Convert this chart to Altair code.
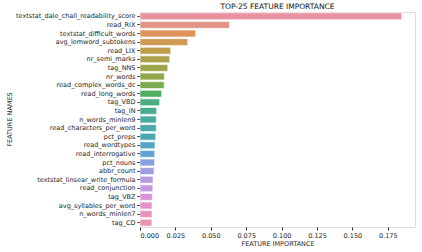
import altair as alt
import pandas as pd

features = [
    "textstat_dale_chall_readability_score", "read_RIX", "textstat_difficult_words",
    "avg_lemword_subtokens", "read_LIX", "nr_semi_marks", "tag_NNS", "nr_words",
    "read_complex_words_dc", "read_long_words", "tag_VBD", "tag_IN", "n_words_minlen9",
    "read_characters_per_word", "pct_preps", "read_wordtypes", "read_interrogative",
    "pct_nouns", "abbr_count", "textstat_linsear_write_formula", "read_conjunction",
    "tag_VBZ", "avg_syllables_per_word", "n_words_minlen7", "tag_CD",
]
importance = [
    0.1848, 0.0631, 0.0393, 0.0337, 0.0217, 0.0210, 0.0196, 0.0172,
    0.0171, 0.0153, 0.0139, 0.0118, 0.0115, 0.0115, 0.0111, 0.0106,
    0.0104, 0.0103, 0.0099, 0.0092, 0.0091, 0.0087, 0.0085, 0.0085, 0.0084,
]
colors = [
    "#e8919f", "#e49387", "#df935c", "#d09a52", "#bd9e4c", "#ada24b", "#9ea54b",
    "#8fa84c", "#7bab4f", "#52ad63", "#4bad80", "#4bab92", "#4aaa9c", "#4ba9a8",
    "#4ca7b4", "#50a5c4", "#62a2d8", "#86a0e0", "#a09de2", "#b499e1", "#c997e0",
    "#da93dc", "#e590cf", "#e991bf", "#e994ad",
]

df = pd.DataFrame({"feature": features, "importance": importance, "color": colors})

txt = "#262626"

chart = alt.Chart(df).mark_bar(stroke="white", strokeWidth=0.6).encode(
    y=alt.Y("feature:N", sort=features,
            scale=alt.Scale(paddingInner=0.2, paddingOuter=0.1),
            axis=alt.Axis(title="FEATURE NAMES", labelFontSize=6.5, labelColor=txt,
                          tickSize=3, tickColor=txt, domain=False,
                          titleFontSize=6.5, titleFontWeight="normal", titleColor=txt,
                          titleX=-128, titleY=107, titleAngle=270, titleAlign="center",
                          titleBaseline="bottom", labelPadding=2)),
    x=alt.X("importance:Q", scale=alt.Scale(domain=[0, 0.1942], nice=False),
            axis=alt.Axis(title="FEATURE IMPORTANCE", values=[0, 0.025, 0.05, 0.075, 0.1, 0.125, 0.15, 0.175],
                          format=".3f", labelFontSize=6.5, labelColor=txt,
                          tickSize=3, tickColor=txt, domain=False, grid=False,
                          titleFontSize=6.5, titleFontWeight="normal", titleColor=txt,
                          titlePadding=2, labelPadding=2)),
    color=alt.Color("color:N", scale=None),
).properties(
    width=275, height=215,
    title=alt.TitleParams("TOP-25 FEATURE IMPORTANCE", fontSize=7.5, fontWeight="normal",
                          color="#111111", offset=2),
    autosize=alt.AutoSizeParams(type="none"),
    padding={"left": 140, "top": 12, "right": 7, "bottom": 25},
).configure_view(stroke="#999999", strokeWidth=1).configure(font="DejaVu Sans")

chart.save("out.html", embed_options={"renderer": "svg", "actions": False})
